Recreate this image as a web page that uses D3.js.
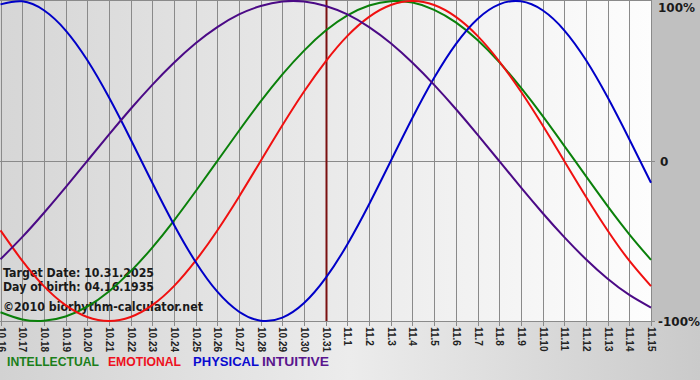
<!DOCTYPE html>
<html>
<head>
<meta charset="utf-8">
<script src="https://cdn.jsdelivr.net/npm/d3@7"></script>
<style>
  html, body { margin: 0; padding: 0; background: #c0c0c0; }
  svg { display: block; }
</style>
</head>
<body>
<svg id="chart" width="700" height="380"></svg>
<script>
// day labels on the x axis (10.16.2025 - 11.15.2025)
const days = ["10.16","10.17","10.18","10.19","10.20","10.21","10.22","10.23","10.24","10.25",
  "10.26","10.27","10.28","10.29","10.30","10.31","11.1","11.2","11.3","11.4","11.5","11.6",
  "11.7","11.8","11.9","11.10","11.11","11.12","11.13","11.14","11.15"];

// values, -1 .. 1, one per day
const intellectual = [-0.945,-0.990,-0.999,-0.972,-0.910,-0.815,-0.690,-0.541,-0.372,-0.189,0,0.189,0.372,0.541,
  0.690,0.815,0.910,0.972,0.999,0.990,0.945,0.866,0.756,0.618,0.458,0.282,0.095,-0.095,-0.282,-0.458,-0.618];
const emotional = [-0.434,-0.623,-0.782,-0.901,-0.975,-1.000,-0.975,-0.901,-0.782,-0.623,-0.434,-0.223,0,0.223,
  0.434,0.623,0.782,0.901,0.975,1.000,0.975,0.901,0.782,0.623,0.434,0.223,0,-0.223,-0.434,-0.623,-0.782];
const physical = [0.979,0.998,0.942,0.817,0.631,0.398,0.136,-0.136,-0.398,-0.631,-0.817,-0.942,-0.998,-0.979,
  -0.888,-0.731,-0.520,-0.270,0,0.270,0.520,0.731,0.888,0.979,0.998,0.942,0.817,0.631,0.398,0.136,-0.136];
const intuitive = [-0.614,-0.476,-0.325,-0.165,0,0.165,0.325,0.476,0.614,0.736,0.837,0.916,0.969,0.997,0.997,
  0.969,0.916,0.837,0.736,0.614,0.476,0.325,0.165,0,-0.165,-0.325,-0.476,-0.614,-0.736,-0.837,-0.916];

const seriesNames = ["INTELLECTUAL", "EMOTIONAL", "PHYSICAL", "INTUITIVE"];
const yTicks = [1, 0, -1];
const yTickLabels = ["100%", "0", "-100%"];
const targetDay = "10.31";
const infoLines = ["Target Date: 10.31.2025", "Day of birth: 04.16.1935", "\u00a92010 biorhythm-calculator.net"];

const series = [
  { name: seriesNames[0], values: intellectual, color: "#0a800a", legend: "#1a7f1a" },
  { name: seriesNames[1], values: emotional, color: "#f01010", legend: "#ee1020" },
  { name: seriesNames[2], values: physical, color: "#0000c8", legend: "#0a0ad0" },
  { name: seriesNames[3], values: intuitive, color: "#4b0a86", legend: "#5a168e" },
];

const plotL = 0.5, plotR = 651, plotT = 1, plotB = 321;
const svg = d3.select("#chart");

const x = d3.scalePoint().domain(days).range([plotL, plotR]);
const y = d3.scaleLinear().domain([-1, 1]).range([plotB, plotT]);

const defs = svg.append("defs");
const g1 = defs.append("linearGradient").attr("id", "plotbg");
g1.append("stop").attr("offset", "0%").attr("stop-color", "#d6d6d6");
g1.append("stop").attr("offset", "100%").attr("stop-color", "#fdfdfd");
const g2 = defs.append("linearGradient").attr("id", "bottombg");
g2.append("stop").attr("offset", "0%").attr("stop-color", "#d2d2d2");
g2.append("stop").attr("offset", "50%").attr("stop-color", "#ececec");
g2.append("stop").attr("offset", "100%").attr("stop-color", "#cacaca");

svg.append("rect").attr("width", 700).attr("height", 380).attr("fill", "#c0c0c0");
svg.append("rect").attr("x", 0).attr("y", plotB).attr("width", 700).attr("height", 380 - plotB)
  .attr("fill", "url(#bottombg)");
svg.append("rect").attr("x", 0).attr("y", 0).attr("width", plotR).attr("height", plotB)
  .attr("fill", "url(#plotbg)");

// vertical grid + tick marks
svg.append("g").selectAll("line").data(days).join("line")
  .attr("x1", d => Math.round(x(d)) + 0.5).attr("x2", d => Math.round(x(d)) + 0.5)
  .attr("y1", 0).attr("y2", plotB + 5)
  .attr("stroke", "#8a8a8a").attr("stroke-width", 1);

// horizontal lines
svg.append("line").attr("x1", 0).attr("x2", plotR).attr("y1", 0.5).attr("y2", 0.5).attr("stroke", "#8a8a8a");
svg.append("line").attr("x1", 0).attr("x2", plotR + 4).attr("y1", Math.round(y(0)) + 0.5).attr("y2", Math.round(y(0)) + 0.5).attr("stroke", "#8a8a8a");
svg.append("line").attr("x1", 0).attr("x2", plotR + 4).attr("y1", plotB + 0.5).attr("y2", plotB + 0.5).attr("stroke", "#8a8a8a");

// day labels, rotated
svg.append("g").selectAll("text").data(days).join("text")
  .attr("transform", d => `translate(${Math.round(x(d)) + 0.5},${plotB + 6}) rotate(90)`)
  .attr("dy", "0.35em")
  .attr("font-family", "'Liberation Sans', Arial, sans-serif")
  .attr("font-weight", "bold").attr("font-size", 10)
  .attr("fill", "#222")
  .text(d => d);

// y labels on the right
const yLabelY = [12, 166, 326];
svg.append("g").selectAll("text").data(yTicks).join("text")
  .attr("x", (d, i) => i === 1 ? 660 : 658)
  .attr("y", (d, i) => yLabelY[i])
  .attr("font-family", "'DejaVu Sans', Verdana, sans-serif")
  .attr("font-weight", "bold").attr("font-size", 12)
  .attr("textLength", (d, i) => [37, 0, 42][i] || null).attr("lengthAdjust", "spacingAndGlyphs")
  .attr("fill", "#1a1a1a")
  .text((d, i) => yTickLabels[i]);

// info text
const infoY = [277, 291, 311];
const infoW = [151, 151, 200];
svg.append("g").selectAll("text").data(infoLines).join("text")
  .attr("x", 3).attr("y", (d, i) => infoY[i])
  .attr("font-family", "'DejaVu Sans', Verdana, sans-serif")
  .attr("font-weight", "bold").attr("font-size", 12.5)
  .attr("textLength", (d, i) => infoW[i]).attr("lengthAdjust", "spacingAndGlyphs")
  .attr("fill", "#1a1a1a")
  .text(d => d);

// target day marker
svg.append("line")
  .attr("x1", Math.round(x(targetDay)) + 0.5).attr("x2", Math.round(x(targetDay)) + 0.5)
  .attr("y1", 0).attr("y2", plotB)
  .attr("stroke", "#7a1010").attr("stroke-width", 2);

// curves
const line = d3.line()
  .x((d, i) => x(days[i]))
  .y(d => y(d))
  .curve(d3.curveNatural);

svg.append("g").selectAll("path").data(series).join("path")
  .attr("d", s => line(s.values))
  .attr("fill", "none")
  .attr("stroke", s => s.color)
  .attr("stroke-width", 2);

// legend
const legX = [7, 108, 193, 262];
const legW = [92, 73, 66, 67];
svg.append("g").selectAll("text").data(series).join("text")
  .attr("x", (d, i) => legX[i]).attr("y", 366)
  .attr("font-family", "'Liberation Sans', Arial, sans-serif")
  .attr("font-weight", "bold").attr("font-size", 12.5)
  .attr("textLength", (d, i) => legW[i]).attr("lengthAdjust", "spacingAndGlyphs")
  .attr("fill", d => d.legend)
  .text(d => d.name);
</script>
</body>
</html>
